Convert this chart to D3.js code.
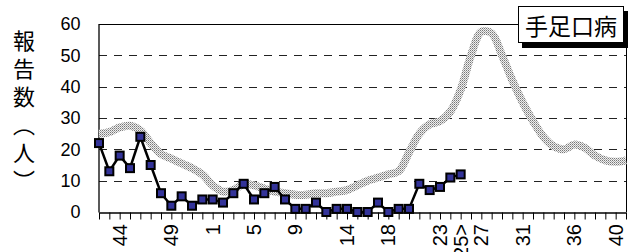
<!DOCTYPE html>
<html>
<head>
<meta charset="utf-8">
<script src="https://cdn.jsdelivr.net/npm/d3@7"></script>
<style>
  body { margin: 0; background: #fff; }
  svg { display: block; }
</style>
</head>
<body>
<script>
// week categories (42 of last year .. 41 of this year)
const weeks = ['42','43','44','45','46','47','48','49','50','51','52',
  '1','2','3','4','5','6','7','8','9','10','11','12','13','14','15','16','17','18','19','20',
  '21','22','23','24','25','26','27','28','29','30','31','32','33','34','35','36','37','38','39','40','41']
const shownWeeks = ['44','49','1','5','9','14','18','23','25','27','31','36','40']
const currentWeek = '25'

// this season, weekly reports
const reports = [22,13,18,14,24,15,6,2,5,2,4,4,3,6,9,4,6,8,4,1,1,3,0,1,1,0,0,3,0,1,1,9,7,8,11,12]
// grey band (previous season)
const previous = [25,25.5,27,27.5,26,22,18.5,17,15.5,14,12,8.5,6.5,7,9,8.5,7.5,6.5,6,5.5,5.5,6,6,6.5,7,
  8.5,10,11,12,13,19,25,28,29,32,39,50,57.5,57,50,42,35,29,24,21,20,21.5,20.5,18,16.5,16,16.5]
const yTicks = [0,10,20,30,40,50,60]
const yTitle = '報告数（人）'
const title = '手足口病'

const w = 638
const h = 252
const pLeft = 99
const pRight = 626
const pTop = 24
const pBottom = 212

const svg = d3.select('body')
  .append('svg')
  .attr('width', w)
  .attr('height', h)

// stipple for the grey band
const defs = svg.append('defs')
const pat = defs.append('pattern')
  .attr('id', 'dots')
  .attr('patternUnits', 'userSpaceOnUse')
  .attr('width', 2)
  .attr('height', 2)
pat.append('rect').attr('width', 2).attr('height', 2).attr('fill', '#eeeeee')
pat.append('rect').attr('width', 1).attr('height', 1).attr('fill', '#777')
pat.append('rect').attr('x', 1).attr('y', 1).attr('width', 1).attr('height', 1).attr('fill', '#aaa')

const xScale = d3.scalePoint()
  .domain(weeks)
  .range([pLeft, pRight])

const yScale = d3.scaleLinear()
  .domain([0, 60])
  .range([pBottom, pTop])

// gridlines
svg.append('g')
  .selectAll('line')
  .data(yTicks.filter(d => d > 0 && d < 60))
  .enter()
  .append('line')
  .attr('x1', pLeft)
  .attr('x2', pRight)
  .attr('y1', d => Math.round(yScale(d)) + 0.5)
  .attr('y2', d => Math.round(yScale(d)) + 0.5)
  .attr('stroke', '#222')
  .attr('stroke-dasharray', '8,7')

// frame top + right
svg.append('path')
  .attr('d', `M${pLeft - 0.5},${pTop + 0.5}H${pRight + 0.5}V${pBottom}`)
  .attr('fill', 'none')
  .attr('stroke', '#000')

// y axis
const yAxis = d3.axisLeft(yScale)
  .tickValues(yTicks)
  .tickSize(0)
  .tickPadding(18)
svg.append('g')
  .attr('class', 'y-axis')
  .attr('transform', `translate(${pLeft - 0.5},0)`)
  .call(yAxis)
  .call(g => g.select('.domain').attr('stroke', '#000').attr('stroke-width', 1.3))
  .call(g => g.selectAll('text')
    .attr('font-family', 'Liberation Sans, Arial, sans-serif')
    .attr('font-size', 18)
    .attr('fill', '#000'))

// x axis
const xAxis = d3.axisBottom(xScale)
  .tickSize(7)
  .tickSizeOuter(0)
  .tickFormat('')
svg.append('g')
  .attr('class', 'x-axis')
  .attr('transform', `translate(0,${pBottom + 0.5})`)
  .call(xAxis)
  .call(g => g.select('.domain').attr('stroke', '#000').attr('stroke-width', 1.3))
  .call(g => g.selectAll('.tick line').attr('stroke', '#000'))

svg.append('g')
  .selectAll('text')
  .data(shownWeeks)
  .enter()
  .append('text')
  .attr('transform', d => `translate(${xScale(d)},${pBottom + 12}) rotate(-90)`)
  .attr('text-anchor', 'end')
  .attr('dy', '0.35em')
  .attr('font-family', 'Liberation Sans, Arial, sans-serif')
  .attr('font-size', 20)
  .text(d => d === currentWeek ? '<' + d + '>' : d)

// previous season band
const band = d3.line()
  .x((d, i) => xScale(weeks[i]))
  .y(d => yScale(d))
  .curve(d3.curveCatmullRom.alpha(0.5))

svg.append('path')
  .datum(previous)
  .attr('d', band)
  .attr('fill', 'none')
  .attr('stroke', 'url(#dots)')
  .attr('stroke-width', 8)

// this season
const line = d3.line()
  .x((d, i) => xScale(weeks[i]))
  .y(d => yScale(d))

svg.append('path')
  .datum(reports)
  .attr('d', line)
  .attr('fill', 'none')
  .attr('stroke', '#000')
  .attr('stroke-width', 2.5)

svg.selectAll('rect.mark')
  .data(reports)
  .enter()
  .append('rect')
  .attr('class', 'mark')
  .attr('x', (d, i) => xScale(weeks[i]) - 4)
  .attr('y', d => yScale(d) - 4)
  .attr('width', 8)
  .attr('height', 8)
  .attr('fill', '#333399')
  .attr('stroke', '#000')
  .attr('stroke-width', 2)

// y title, written vertically
svg.append('text')
  .attr('x', 24)
  .attr('y', 30)
  .style('writing-mode', 'vertical-rl')
  .style('letter-spacing', '6px')
  .attr('font-family', 'Noto Sans CJK JP, sans-serif')
  .attr('font-size', 22)
  .text(yTitle)

// title box with shadow
svg.append('rect')
  .attr('x', 522).attr('y', 11)
  .attr('width', 106).attr('height', 37)
  .attr('fill', '#000')
svg.append('rect')
  .attr('x', 518.5).attr('y', 6.5)
  .attr('width', 105).attr('height', 36)
  .attr('fill', '#fff')
  .attr('stroke', '#000')
svg.append('text')
  .attr('x', 571)
  .attr('y', 25)
  .attr('text-anchor', 'middle')
  .attr('dominant-baseline', 'central')
  .attr('font-family', 'Noto Sans CJK JP, sans-serif')
  .attr('font-size', 23)
  .text(title)
</script>
</body>
</html>
